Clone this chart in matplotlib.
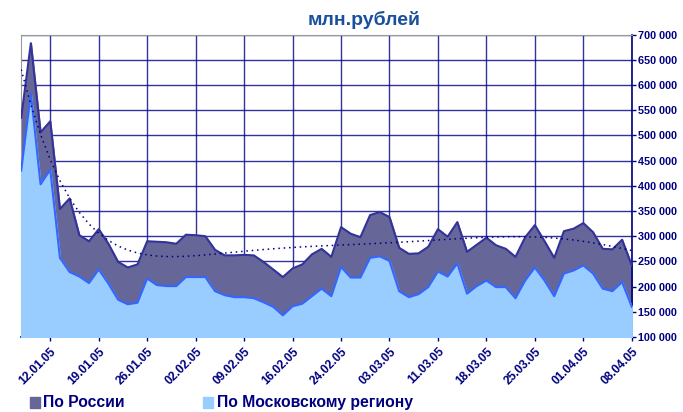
# Area chart: daily volumes, Russia vs Moscow region, млн.рублей
import numpy as np
import matplotlib.pyplot as plt

# Data (64 trading days)
russia = [535000, 683000, 506000, 528000, 354000, 375000, 302000, 290000, 314000, 285000,
          249000, 238000, 244000, 290000, 289000, 288000, 285000, 303000, 302000, 300000,
          273000, 262000, 262000, 263000, 262000, 249000, 234000, 219000, 236000, 244000,
          264000, 275000, 259000, 318000, 305000, 298000, 342000, 348000, 338000, 277000,
          265000, 266000, 279000, 314000, 299000, 328000, 269000, 283000, 297000, 282000,
          275000, 259000, 298000, 322000, 290000, 257000, 310000, 315000, 326000, 308000,
          275000, 274000, 293000, 242000]
moscow = [430000, 583000, 403000, 432000, 257000, 229000, 220000, 207000, 234000, 206000,
          174000, 165000, 168000, 216000, 203000, 201000, 201000, 219000, 219000, 219000,
          191000, 183000, 179000, 179000, 177000, 169000, 160000, 143000, 161000, 166000,
          181000, 196000, 181000, 239000, 218000, 218000, 257000, 260000, 251000, 191000,
          179000, 185000, 199000, 230000, 220000, 246000, 186000, 201000, 212000, 199000,
          199000, 177000, 212000, 238000, 212000, 181000, 226000, 232000, 242000, 226000,
          196000, 191000, 209000, 160000]
tick_labels = ["12.01.05", "19.01.05", "26.01.05", "02.02.05", "09.02.05", "16.02.05",
               "24.02.05", "03.03.05", "11.03.05", "18.03.05", "25.03.05", "01.04.05",
               "08.04.05"]
tick_pos = list(range(3, 64, 5))

navy = "#000080"
x = np.arange(len(russia))

plt.rcParams['font.family'] = ['Liberation Sans', 'DejaVu Sans']
fig = plt.figure(figsize=(6.83, 4.12), dpi=100)
ax = fig.add_axes([0.031, 0.182, 0.894, 0.734])

ax.fill_between(x, 0, russia, color="#666699", zorder=2)
ax.plot(x, russia, color="#333399", lw=1.5, zorder=3)
ax.fill_between(x, 0, moscow, color="#99CCFF", zorder=4)
ax.plot(x, moscow, color="#3366FF", lw=1.5, zorder=5)

# polynomial trend of the Russia series (like Excel's trendline)
coef = np.polyfit(x, russia, 6)
ax.plot(x, np.polyval(coef, x), color=navy, lw=1.1, ls=(0, (1, 2.5)), zorder=6)

ax.set_xlim(0, 63)
ax.set_ylim(100000, 700000)
ax.set_yticks(range(100000, 700001, 50000))
ax.set_yticklabels([f"{v:,}".replace(",", " ") for v in range(100000, 700001, 50000)])
ax.yaxis.tick_right()
ax.set_xticks(tick_pos)
ax.set_xticklabels(tick_labels, rotation=45, ha="right", va="top", rotation_mode="anchor")

ax.grid(True, color=navy, lw=1.0, alpha=0.8, zorder=0)
ax.set_axisbelow(True)
ax.tick_params(axis="both", colors=navy, length=3, width=1)
ax.tick_params(axis="x", labelsize=8.6, pad=3)
ax.tick_params(axis="y", labelsize=7.8, pad=1.5)
for lbl in ax.get_xticklabels() + ax.get_yticklabels():
    lbl.set_fontweight("bold")
for s in ["top", "left"]:
    ax.spines[s].set_color("#999999")
for s in ["right", "bottom"]:
    ax.spines[s].set_color(navy)
    ax.spines[s].set_linewidth(1.2)

fig.text(0.533, 0.951, "млн.рублей", ha="center", va="center", fontsize=14,
         fontweight="bold", color="#1a4f9c")

# legend
fig.patches.append(plt.Rectangle((0.044, 0.010), 0.0146, 0.026, color="#666699",
                                 transform=fig.transFigure, figure=fig))
fig.text(0.063, 0.023, "По России", va="center", fontsize=11.3, fontweight="bold", color=navy)
fig.patches.append(plt.Rectangle((0.297, 0.010), 0.0146, 0.026, color="#99CCFF",
                                 transform=fig.transFigure, figure=fig))
fig.text(0.318, 0.023, "По Московскому региону", va="center", fontsize=11.3,
         fontweight="bold", color=navy)

fig.savefig("out.png", dpi=100)
